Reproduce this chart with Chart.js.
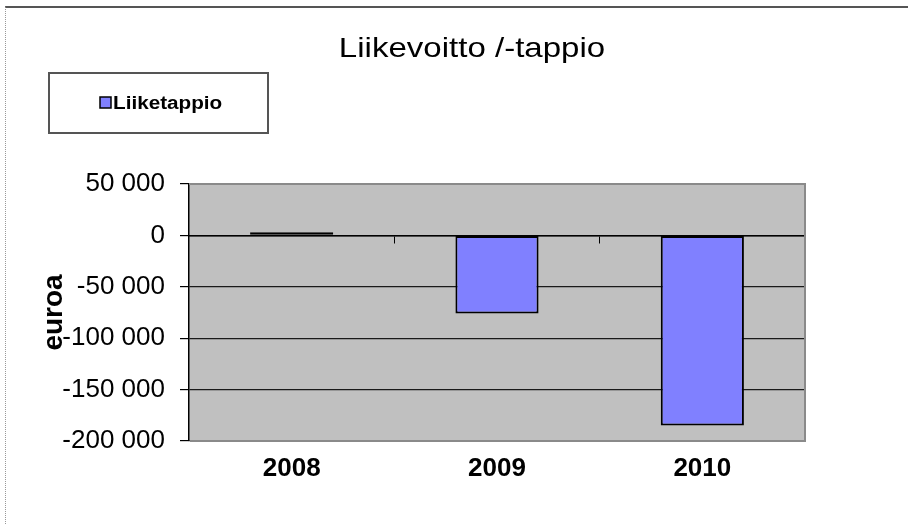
<!DOCTYPE html>
<html lang="fi">
<head>
<meta charset="UTF-8">
<title>Liikevoitto /-tappio</title>
<script src="https://cdn.jsdelivr.net/npm/chart.js@4.4.1/dist/chart.umd.min.js"></script>
<style>
  html, body { margin: 0; padding: 0; background: #fff; }
  #wrap { position: relative; width: 908px; height: 524px; overflow: hidden; }
  #wrap canvas { position: absolute; left: 0; top: 0; }
  /* kehys: ylhäällä tumma viiva, vasemmalla pisteviiva */
  #frame { position: absolute; left: 5px; top: 6px; right: -4px; bottom: -4px;
           border-top: 2px solid #555; border-left: 1px dotted #999; pointer-events: none; }
</style>
</head>
<body>
<div id="wrap">
  <canvas id="chart" width="908" height="524"></canvas>
  <div id="frame"></div>
</div>
<script>
// --- DATA ---
const chartTitle = 'Liikevoitto /-tappio';
const seriesName = 'Liiketappio';
const axisTitle = 'euroa';
const years = ['2008', '2009', '2010'];
const liiketappio = [3000, -76000, -185000];
const yMin = -200000;
const yMax = 50000;
const yStep = 50000;

const FONT = "'Liberation Sans', Arial, sans-serif";
const BAR_COLOR = '#8080ff';

// 50000 -> "50 000", -100000 -> "-100 000"
function fmt(v) {
    const s = Math.abs(v).toString().replace(/\B(?=(\d{3})+(?!\d))/g, ' ');
    return (v < 0 ? '-' : '') + s;
}

// teksti hieman leveämmäksi venytettynä (kuten alkuperäisessä kuvassa)
function wideText(ctx, text, x, y, sx) {
    ctx.save();
    ctx.translate(x, y);
    ctx.scale(sx, 1);
    ctx.fillText(text, 0, 0);
    ctx.restore();
}

// harmaa piirtoalue, reunat, otsikko ja selite
const decor = {
    id: 'decor',
    beforeDraw(chart) {
        const { ctx, chartArea: a } = chart;
        ctx.save();
        ctx.fillStyle = '#c0c0c0';
        ctx.fillRect(a.left, a.top, a.right - a.left, a.bottom - a.top);
        ctx.restore();
    },
    beforeDatasetsDraw(chart) {
        const { ctx, chartArea: a } = chart;
        ctx.save();
        ctx.strokeStyle = '#8a8a8a';
        ctx.lineWidth = 2;
        ctx.beginPath();
        ctx.moveTo(a.left, a.top);
        ctx.lineTo(a.right, a.top);
        ctx.lineTo(a.right, a.bottom);
        ctx.lineTo(a.left + 1, a.bottom);
        ctx.stroke();
        ctx.restore();
    },
    afterDraw(chart) {
        const ctx = chart.ctx;
        const ds = chart.data.datasets[0];
        ctx.save();
        ctx.fillStyle = '#000';

        // otsikko
        ctx.font = '28px ' + FONT;
        ctx.textAlign = 'center';
        ctx.textBaseline = 'alphabetic';
        wideText(ctx, chartTitle, 472, 57, 1.18);

        // selite
        ctx.strokeStyle = '#555';
        ctx.lineWidth = 2;
        ctx.strokeRect(49, 73, 219, 60);
        ctx.fillStyle = ds.backgroundColor;
        ctx.fillRect(100, 97, 11, 11);
        ctx.strokeStyle = '#000';
        ctx.lineWidth = 1.5;
        ctx.strokeRect(100, 97, 11, 11);
        ctx.fillStyle = '#000';
        ctx.font = 'bold 18px ' + FONT;
        ctx.textAlign = 'left';
        ctx.textBaseline = 'middle';
        wideText(ctx, ds.label, 113, 104, 1.15);
        ctx.restore();
    }
};

new Chart(document.getElementById('chart'), {
    type: 'bar',
    data: {
        labels: years,
        datasets: [{
            label: seriesName,
            data: liiketappio,
            backgroundColor: BAR_COLOR,
            borderColor: '#000',
            borderWidth: 2,
            borderSkipped: false,
            xAxisID: 'x',
            categoryPercentage: 1,
            barPercentage: 0.405
        }]
    },
    options: {
        responsive: false,
        animation: false,
        devicePixelRatio: 1,
        layout: { padding: { top: 184, right: 103, bottom: 0, left: 0 } },
        plugins: {
            legend: { display: false },
            title: { display: false },
            tooltip: { enabled: false }
        },
        scales: {
            // akseli nollakohdassa, vain jakomerkit
            x: {
                type: 'category',
                position: { y: 0 },
                offset: true,
                ticks: { display: false },
                grid: { offset: true, drawOnChartArea: false, drawTicks: true, tickLength: 7, color: '#000', lineWidth: 1 },
                border: { display: true, color: '#000', width: 1.5 }
            },
            // vuosiluvut alhaalla
            xl: {
                type: 'category',
                labels: years,
                position: 'bottom',
                offset: true,
                grid: { display: false, drawTicks: false },
                border: { display: false },
                ticks: { color: '#000', padding: 12, font: { family: FONT, size: 26, weight: 'bold' } },
                afterFit(s) { s.height = 83; }
            },
            y: {
                min: yMin,
                max: yMax,
                position: 'left',
                ticks: {
                    stepSize: yStep,
                    color: '#000',
                    padding: 15,
                    font: { family: FONT, size: 26 },
                    callback: (v) => fmt(v)
                },
                grid: { color: '#1a1a1a', tickColor: '#000', tickLength: 9, lineWidth: 1.2 },
                border: { display: true, color: '#000', width: 1.5 },
                title: {
                    display: true,
                    text: axisTitle,
                    color: '#000',
                    font: { family: FONT, size: 28, weight: 'bold' },
                    padding: { top: 37, bottom: 0 }
                },
                afterFit(s) { s.width = 189; }
            }
        }
    },
    plugins: [decor]
});
</script>
</body>
</html>
